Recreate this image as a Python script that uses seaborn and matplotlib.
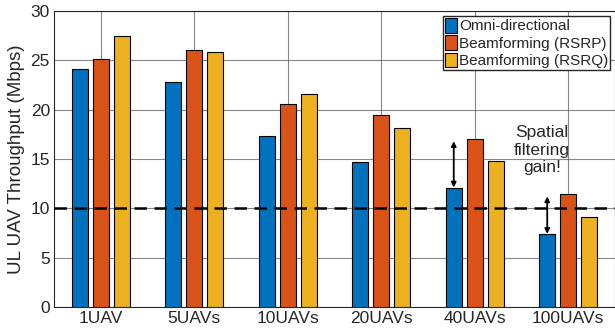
import pandas as pd
import numpy as np
import matplotlib
matplotlib.use("Agg")
import matplotlib.pyplot as plt
import seaborn as sns

# Datos
escenarios = ["1UAV", "5UAVs", "10UAVs", "20UAVs", "40UAVs", "100UAVs"]
omni = [24.1, 22.8, 17.3, 14.7, 12.1, 7.4]
bf_rsrp = [25.1, 26.1, 20.6, 19.5, 17.0, 11.4]
bf_rsrq = [27.5, 25.8, 21.6, 18.1, 14.8, 9.1]
series = ["Omni-directional", "Beamforming (RSRP)", "Beamforming (RSRQ)"]
colores = ["#0072BD", "#D95319", "#EDB120"]
umbral = 10

# Tabla larga para seaborn
df = pd.DataFrame({
    "escenario": escenarios * 3,
    "serie": [series[0]] * 6 + [series[1]] * 6 + [series[2]] * 6,
    "valor": omni + bf_rsrp + bf_rsrq,
})

sns.set_style("white")
plt.rcParams["font.family"] = ["Liberation Sans", "DejaVu Sans"]

fig = plt.figure(figsize=(6.15, 3.35), dpi=100)
ax = fig.add_axes([0.088, 0.084, 0.912, 0.883])

sns.barplot(data=df, x="escenario", y="valor", hue="serie", order=escenarios,
            hue_order=series, palette=colores, width=0.675, gap=0.24,
            edgecolor="black", linewidth=0.8, saturation=1, ax=ax, zorder=3)

# Grid estilo MATLAB
ax.set_axisbelow(True)
ax.grid(True, color="#555555", linewidth=0.8, alpha=0.7, zorder=0)
ax.set_xlim(-0.5, 5.5)
ax.set_ylim(0, 30)
ax.set_yticks(range(0, 31, 5))
ax.tick_params(direction="in", labelsize=12.5, length=3, colors="#262626", pad=3)
for sp in ax.spines.values():
    sp.set_color("#262626")
    sp.set_linewidth(0.8)
ax.set_xlabel("")
ax.set_ylabel("UL UAV Throughput (Mbps)", fontsize=13.5, color="#262626", labelpad=4)

# Línea de umbral
ax.axhline(umbral, color="black", linestyle=(0, (5, 3)), linewidth=1.8, zorder=4)

# Flechas de ganancia
pos_omni = -0.225
for i in [4, 5]:
    ax.annotate("", xy=(i + pos_omni, omni[i]), xytext=(i + pos_omni, bf_rsrp[i] - 0.2),
                arrowprops=dict(arrowstyle="<|-|>", color="black", lw=1.3,
                                mutation_scale=7, shrinkA=0, shrinkB=0), zorder=5)
ax.text(4.72, 15.9, "Spatial\nfiltering\ngain!", ha="center", va="center",
        fontsize=12.5, linespacing=1.2, zorder=5)

# Leyenda
ax.legend(loc="upper right", fontsize=11, frameon=True, fancybox=False,
          edgecolor="#262626", framealpha=1, borderpad=0.15, labelspacing=0.12,
          handlelength=0.8, handleheight=1.1, handletextpad=0.1,
          borderaxespad=0.3, title=None)

fig.savefig("out.png", dpi=100)
